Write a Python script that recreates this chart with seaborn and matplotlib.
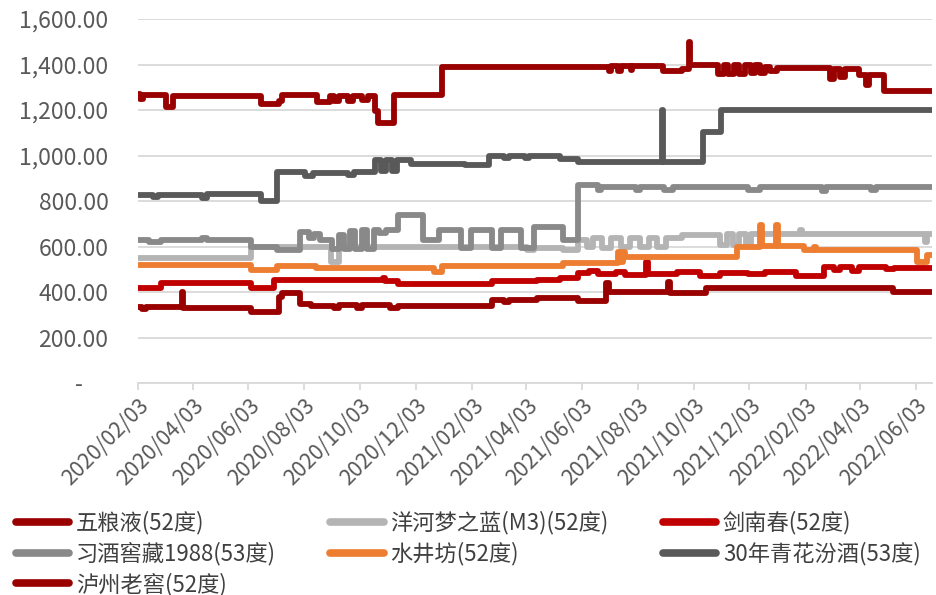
import matplotlib
matplotlib.use("agg")
import matplotlib.pyplot as plt
from matplotlib.lines import Line2D
from matplotlib.ticker import FuncFormatter
import matplotlib.dates as mdates
import pandas as pd
import seaborn as sns

# price series: change dates and the level from that date
END_DATE = "2022-06-21"

wly_dates = ["2020-02-03", "2020-02-06", "2020-02-09", "2020-03-05", "2020-03-13", "2020-06-17",
             "2020-07-06", "2020-07-10", "2020-08-17", "2020-08-31", "2020-09-05", "2020-09-10",
             "2020-09-20", "2020-09-25", "2020-10-05", "2020-10-12", "2020-10-19", "2020-10-23",
             "2020-11-09", "2021-01-01", "2021-07-02", "2021-07-05", "2021-07-12", "2021-07-15",
             "2021-07-26", "2021-07-28", "2021-08-31", "2021-09-20", "2021-09-28", "2021-09-29",
             "2021-10-30", "2021-11-05", "2021-11-10", "2021-11-16", "2021-11-22", "2021-11-28",
             "2021-12-05", "2021-12-09", "2021-12-15", "2021-12-20", "2021-12-26", "2022-01-02",
             "2022-03-01", "2022-03-05", "2022-03-12", "2022-03-17", "2022-04-02", "2022-04-10",
             "2022-04-13", "2022-04-29"]
wly_values = [1270, 1250, 1268, 1215, 1262, 1228,
              1240, 1265, 1235, 1262, 1240, 1262,
              1238, 1260, 1245, 1262, 1195, 1145,
              1265, 1390, 1370, 1395, 1372, 1395,
              1375, 1395, 1370, 1382, 1500, 1398,
              1360, 1398, 1360, 1398, 1360, 1398,
              1365, 1398, 1365, 1390, 1370, 1385,
              1335, 1382, 1345, 1382, 1352, 1310,
              1352, 1285]

yh_dates = ["2020-02-03", "2020-06-06", "2020-09-01", "2020-09-10", "2021-04-04", "2021-04-11",
            "2021-05-13", "2021-05-30", "2021-06-08", "2021-06-15", "2021-06-25", "2021-07-05",
            "2021-07-15", "2021-07-25", "2021-08-05", "2021-08-15", "2021-08-24", "2021-09-03",
            "2021-09-20", "2021-11-01", "2021-11-08", "2021-11-15", "2021-11-22", "2021-11-29",
            "2021-12-05", "2022-01-27", "2022-01-29", "2022-06-13", "2022-06-15"]
yh_values = [550, 600, 534, 598, 586, 595,
             586, 630, 600, 640, 595, 640,
             598, 640, 600, 640, 600, 640,
             652, 605, 655, 605, 655, 610,
             656, 672, 656, 620, 656]

jnc_dates = ["2020-02-03", "2020-02-28", "2020-06-06", "2020-07-01", "2020-10-28", "2020-10-30",
             "2020-11-14", "2021-02-24", "2021-04-15", "2021-05-10", "2021-05-29", "2021-06-10",
             "2021-06-20", "2021-07-10", "2021-07-20", "2021-08-12", "2021-08-14", "2021-09-15",
             "2021-10-10", "2021-11-01", "2021-12-01", "2021-12-20", "2022-01-23", "2022-02-22",
             "2022-03-05", "2022-03-12", "2022-03-25", "2022-04-02", "2022-05-01", "2022-05-10"]
jnc_values = [418, 440, 418, 452, 460, 448,
              436, 448, 452, 462, 483, 492,
              478, 490, 475, 532, 480, 488,
              472, 485, 478, 488, 470, 512,
              498, 510, 495, 512, 500, 505]

xj_dates = ["2020-02-03", "2020-02-15", "2020-02-28", "2020-04-13", "2020-04-19", "2020-06-06",
            "2020-07-04", "2020-07-30", "2020-08-08", "2020-08-14", "2020-08-20", "2020-09-03",
            "2020-09-10", "2020-09-16", "2020-09-22", "2020-09-28", "2020-10-05", "2020-10-11",
            "2020-10-18", "2020-10-24", "2020-11-01", "2020-11-14", "2020-12-11", "2020-12-28",
            "2021-01-22", "2021-02-01", "2021-02-24", "2021-03-06", "2021-03-28", "2021-04-11",
            "2021-05-13", "2021-05-29", "2021-06-20", "2021-06-24", "2021-08-01", "2021-08-05",
            "2021-09-01", "2021-09-10", "2021-12-01", "2021-12-15", "2022-02-20", "2022-02-25",
            "2022-04-15", "2022-04-20"]
xj_values = [630, 620, 630, 640, 630, 600,
             586, 665, 640, 655, 630, 588,
             650, 590, 670, 588, 675, 590,
             672, 660, 672, 740, 630, 672,
             594, 672, 594, 672, 594, 688,
             630, 872, 850, 862, 850, 862,
             850, 862, 850, 862, 845, 862,
             848, 862]

sjf_dates = ["2020-02-03", "2020-06-06", "2020-07-04", "2020-08-16", "2020-12-23", "2021-01-01",
             "2021-05-13", "2021-07-12", "2021-07-14", "2021-07-18", "2021-07-20", "2021-11-19",
             "2021-12-15", "2021-12-17", "2022-01-01", "2022-01-03", "2022-02-01", "2022-02-12",
             "2022-02-14", "2022-06-04", "2022-06-15"]
sjf_values = [518, 498, 516, 506, 490, 515,
              530, 578, 534, 578, 556, 600,
              696, 603, 696, 601, 586, 600,
              586, 534, 564]

qh_dates = ["2020-02-03", "2020-02-20", "2020-02-25", "2020-04-13", "2020-04-19", "2020-06-17",
            "2020-07-04", "2020-08-04", "2020-08-13", "2020-09-20", "2020-09-26", "2020-10-20",
            "2020-10-26", "2020-11-01", "2020-11-07", "2020-11-13", "2020-11-28", "2021-01-26",
            "2021-02-21", "2021-03-10", "2021-03-15", "2021-04-01", "2021-04-06", "2021-05-10",
            "2021-05-30", "2021-08-29", "2021-08-31", "2021-10-13", "2021-11-02"]
qh_values = [828, 820, 828, 812, 830, 800,
             930, 910, 922, 915, 926, 980,
             932, 980, 932, 980, 965, 960,
             1000, 990, 1000, 990, 1000, 985,
             970, 1200, 970, 1105, 1200]

lz_dates = ["2020-02-03", "2020-02-08", "2020-02-12", "2020-03-22", "2020-03-24", "2020-06-06",
            "2020-07-07", "2020-07-10", "2020-07-30", "2020-08-10", "2020-09-05", "2020-09-10",
            "2020-09-30", "2020-10-05", "2020-11-05", "2020-11-14", "2021-02-24", "2021-03-10",
            "2021-03-15", "2021-04-15", "2021-05-30", "2021-06-29", "2021-07-02", "2021-09-05",
            "2021-09-07", "2021-10-16", "2022-05-09"]
lz_values = [336, 325, 336, 402, 329, 312,
             380, 395, 347, 340, 329, 344,
             330, 344, 332, 338, 366, 355,
             366, 375, 362, 440, 402, 446,
             395, 417, 402]

series_names = ["五粮液(52度)", "洋河梦之蓝(M3)(52度)", "剑南春(52度)",
                "习酒窖藏1988(53度)", "水井坊(52度)", "30年青花汾酒(53度)", "泸州老窖(52度)"]
series_colors = ["#990000", "#B4B4B4", "#C00000", "#898989", "#ED7D31", "#595959", "#990000"]

# build long-form table
frames = []
for name, d, v in zip(series_names,
                      [wly_dates, yh_dates, jnc_dates, xj_dates, sjf_dates, qh_dates, lz_dates],
                      [wly_values, yh_values, jnc_values, xj_values, sjf_values, qh_values, lz_values]):
    part = pd.DataFrame({"date": pd.to_datetime(d + [END_DATE]), "price": v + [v[-1]]})
    part["series"] = name
    frames.append(part)
df = pd.concat(frames, ignore_index=True)

sns.set_style("white")
plt.rcParams["font.family"] = ["Noto Sans CJK SC", "DejaVu Sans"]
plt.rcParams["axes.unicode_minus"] = False

fig = plt.figure(figsize=(9.37, 5.95), dpi=100)
ax = fig.add_axes([0.147, 0.356, 0.848, 0.612])

ax.grid(axis="y", color="#D9D9D9", linewidth=1.3, zorder=0)
ax.set_axisbelow(True)

sns.lineplot(data=df, x="date", y="price", hue="series", hue_order=series_names,
             palette=dict(zip(series_names, series_colors)),
             estimator=None, drawstyle="steps-post", linewidth=4.2, legend=False, ax=ax,
             solid_capstyle="round", solid_joinstyle="round")

ax.set_ylim(0, 1600)
ax.set_yticks(range(0, 1601, 200))
ax.yaxis.set_major_formatter(FuncFormatter(lambda v, p: "-     " if v == 0 else f"{v:,.2f}"))
ax.set_xlim(pd.Timestamp("2020-02-03"), pd.Timestamp(END_DATE))
ticks = pd.date_range("2020-02-03", "2022-06-03", freq=pd.DateOffset(months=2))
ax.set_xticks(ticks)
ax.xaxis.set_major_formatter(mdates.DateFormatter("%Y/%m/%d"))
ax.set_xlabel("")
ax.set_ylabel("")

for s in ["top", "right", "left"]:
    ax.spines[s].set_visible(False)
ax.spines["bottom"].set_color("#D9D9D9")
ax.spines["bottom"].set_linewidth(1.3)
ax.tick_params(axis="x", colors="#595959", labelsize=15.5, length=5, width=1.3,
               direction="out", color="#D9D9D9", bottom=True, pad=3)
ax.tick_params(axis="y", colors="#595959", labelsize=16.5, length=0, pad=21)
for lab in ax.get_xticklabels():
    lab.set_rotation(45)
    lab.set_ha("right")
    lab.set_rotation_mode("anchor")

# legend in three columns, row-major order as in the reference
order = [0, 3, 6, 1, 4, 2, 5]
handles = [Line2D([], [], color=series_colors[i], linewidth=5.5, solid_capstyle="round") for i in order]
labels = [series_names[i] for i in order]
fig.legend(handles, labels, ncol=3, loc="upper left", bbox_to_anchor=(0.005, 0.16),
           frameon=False, fontsize=16, handlelength=2.4, handletextpad=0.3,
           columnspacing=2.45, labelspacing=0.32, borderpad=0, labelcolor="#404040")

fig.savefig("out.png", dpi=100)
